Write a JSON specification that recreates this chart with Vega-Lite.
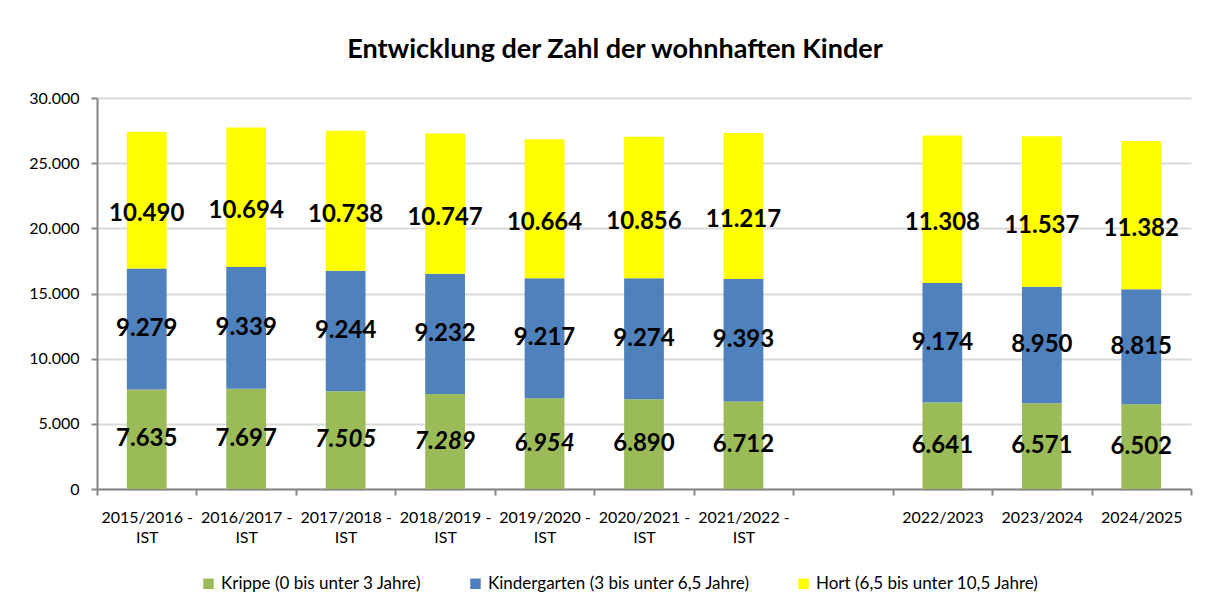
{
  "$schema": "https://vega.github.io/schema/vega-lite/v6.json",
  "autosize": {"type": "none"},
  "width": 1094,
  "height": 391,
  "padding": {"left": 97, "top": 98, "right": 25, "bottom": 123},
  "background": "white",
  "title": {
    "text": "Entwicklung der Zahl der wohnhaften Kinder",
    "font": "Lato",
    "fontSize": 27,
    "fontWeight": "bold",
    "color": "#000000",
    "anchor": "middle",
    "offset": 26,
    "dx": -29
  },
  "config": {
    "locale": {"number": {"decimal": ",", "thousands": ".", "grouping": [3], "currency": ["", " €"]}},
    "view": {"stroke": null},
    "font": "Lato"
  },
  "data": {
    "values": [
      {"Jahr": "2015/2016 -|IST", "Typ": "Krippe (0 bis unter 3 Jahre)", "Wert": 7635},
      {"Jahr": "2015/2016 -|IST", "Typ": "Kindergarten (3 bis unter 6,5 Jahre)", "Wert": 9279},
      {"Jahr": "2015/2016 -|IST", "Typ": "Hort (6,5 bis unter 10,5 Jahre)", "Wert": 10490},
      {"Jahr": "2016/2017 -|IST", "Typ": "Krippe (0 bis unter 3 Jahre)", "Wert": 7697},
      {"Jahr": "2016/2017 -|IST", "Typ": "Kindergarten (3 bis unter 6,5 Jahre)", "Wert": 9339},
      {"Jahr": "2016/2017 -|IST", "Typ": "Hort (6,5 bis unter 10,5 Jahre)", "Wert": 10694},
      {"Jahr": "2017/2018 -|IST", "Typ": "Krippe (0 bis unter 3 Jahre)", "Wert": 7505},
      {"Jahr": "2017/2018 -|IST", "Typ": "Kindergarten (3 bis unter 6,5 Jahre)", "Wert": 9244},
      {"Jahr": "2017/2018 -|IST", "Typ": "Hort (6,5 bis unter 10,5 Jahre)", "Wert": 10738},
      {"Jahr": "2018/2019 -|IST", "Typ": "Krippe (0 bis unter 3 Jahre)", "Wert": 7289},
      {"Jahr": "2018/2019 -|IST", "Typ": "Kindergarten (3 bis unter 6,5 Jahre)", "Wert": 9232},
      {"Jahr": "2018/2019 -|IST", "Typ": "Hort (6,5 bis unter 10,5 Jahre)", "Wert": 10747},
      {"Jahr": "2019/2020 -|IST", "Typ": "Krippe (0 bis unter 3 Jahre)", "Wert": 6954},
      {"Jahr": "2019/2020 -|IST", "Typ": "Kindergarten (3 bis unter 6,5 Jahre)", "Wert": 9217},
      {"Jahr": "2019/2020 -|IST", "Typ": "Hort (6,5 bis unter 10,5 Jahre)", "Wert": 10664},
      {"Jahr": "2020/2021 -|IST", "Typ": "Krippe (0 bis unter 3 Jahre)", "Wert": 6890},
      {"Jahr": "2020/2021 -|IST", "Typ": "Kindergarten (3 bis unter 6,5 Jahre)", "Wert": 9274},
      {"Jahr": "2020/2021 -|IST", "Typ": "Hort (6,5 bis unter 10,5 Jahre)", "Wert": 10856},
      {"Jahr": "2021/2022 -|IST", "Typ": "Krippe (0 bis unter 3 Jahre)", "Wert": 6712},
      {"Jahr": "2021/2022 -|IST", "Typ": "Kindergarten (3 bis unter 6,5 Jahre)", "Wert": 9393},
      {"Jahr": "2021/2022 -|IST", "Typ": "Hort (6,5 bis unter 10,5 Jahre)", "Wert": 11217},
      {"Jahr": "2022/2023", "Typ": "Krippe (0 bis unter 3 Jahre)", "Wert": 6641},
      {"Jahr": "2022/2023", "Typ": "Kindergarten (3 bis unter 6,5 Jahre)", "Wert": 9174},
      {"Jahr": "2022/2023", "Typ": "Hort (6,5 bis unter 10,5 Jahre)", "Wert": 11308},
      {"Jahr": "2023/2024", "Typ": "Krippe (0 bis unter 3 Jahre)", "Wert": 6571},
      {"Jahr": "2023/2024", "Typ": "Kindergarten (3 bis unter 6,5 Jahre)", "Wert": 8950},
      {"Jahr": "2023/2024", "Typ": "Hort (6,5 bis unter 10,5 Jahre)", "Wert": 11537},
      {"Jahr": "2024/2025", "Typ": "Krippe (0 bis unter 3 Jahre)", "Wert": 6502},
      {"Jahr": "2024/2025", "Typ": "Kindergarten (3 bis unter 6,5 Jahre)", "Wert": 8815},
      {"Jahr": "2024/2025", "Typ": "Hort (6,5 bis unter 10,5 Jahre)", "Wert": 11382}
    ]
  },
  "encoding": {
    "x": {
      "field": "Jahr",
      "type": "nominal",
      "scale": {
        "domain": ["2015/2016 -|IST", "2016/2017 -|IST", "2017/2018 -|IST", "2018/2019 -|IST", "2019/2020 -|IST", "2020/2021 -|IST", "2021/2022 -|IST", " ", "2022/2023", "2023/2024", "2024/2025"],
        "paddingInner": 0,
        "paddingOuter": 0
      },
      "axis": {
        "title": null,
        "labelExpr": "split(datum.label, '|')",
        "labelAngle": 0,
        "labelFont": "Lato",
        "labelFontSize": 16,
        "labelColor": "#000000",
        "labelLineHeight": 20,
        "labelPadding": 14,
        "labelBaseline": "top",
        "domainColor": "#868686",
        "domainWidth": 2,
        "tickColor": "#868686",
        "tickWidth": 2,
        "tickSize": 6,
        "tickBand": "extent",
        "grid": false
      }
    },
    "y": {
      "field": "Wert",
      "type": "quantitative",
      "stack": "zero",
      "scale": {"domain": [0, 30000], "nice": false},
      "axis": {
        "title": null,
        "values": [0, 5000, 10000, 15000, 20000, 25000, 30000],
        "format": ",d",
        "labelFont": "Lato",
        "labelFontSize": 16,
        "labelColor": "#000000",
        "labelPadding": 12,
        "domainColor": "#868686",
        "domainWidth": 2,
        "tickColor": "#868686",
        "tickWidth": 2,
        "tickSize": 6,
        "grid": true,
        "gridColor": "#D9D9D9",
        "gridWidth": 2
      }
    },
    "order": {"field": "Typ", "type": "ordinal", "sort": "descending"}
  },
  "layer": [
    {
      "mark": {"type": "bar", "width": {"band": 0.4}},
      "encoding": {
        "color": {
          "field": "Typ",
          "type": "nominal",
          "scale": {
            "domain": ["Krippe (0 bis unter 3 Jahre)", "Kindergarten (3 bis unter 6,5 Jahre)", "Hort (6,5 bis unter 10,5 Jahre)"],
            "range": ["#9BBB59", "#4F81BD", "#FFFF00"]
          },
          "legend": {
            "title": null,
            "orient": "none",
            "legendX": 103,
            "legendY": 477,
            "direction": "horizontal",
            "symbolType": "square",
            "symbolSize": 110,
            "symbolStrokeWidth": 0,
            "labelFont": "Lato",
            "labelFontSize": 17,
            "labelColor": "#000000",
            "labelOffset": 4,
            "columnPadding": 45,
            "labelLimit": 400
          }
        }
      }
    },
    {
      "mark": {"type": "text", "font": "Lato", "fontSize": 24, "fontWeight": "bold", "color": "#000000", "baseline": "middle"},
      "encoding": {
        "y": {"field": "Wert", "type": "quantitative", "stack": "zero", "bandPosition": 0.5},
        "detail": {"field": "Typ"},
        "text": {"field": "Wert", "type": "quantitative", "format": ",d"},
        "opacity": {
          "condition": {"test": "datum.Typ == 'Hort (6,5 bis unter 10,5 Jahre)' || (datum.Typ == 'Krippe (0 bis unter 3 Jahre)' && indexof(['2017/2018 -|IST','2018/2019 -|IST','2019/2020 -|IST'], datum.Jahr) >= 0)", "value": 0},
          "value": 1
        }
      }
    },
    {
      "mark": {"type": "text", "font": "Lato", "fontSize": 24, "fontWeight": "bold", "fontStyle": "italic", "color": "#000000", "baseline": "middle"},
      "encoding": {
        "y": {"field": "Wert", "type": "quantitative", "stack": "zero", "bandPosition": 0.5},
        "detail": {"field": "Typ"},
        "text": {"field": "Wert", "type": "quantitative", "format": ",d"},
        "opacity": {
          "condition": {"test": "datum.Typ == 'Krippe (0 bis unter 3 Jahre)' && indexof(['2017/2018 -|IST','2018/2019 -|IST','2019/2020 -|IST'], datum.Jahr) >= 0", "value": 1},
          "value": 0
        }
      }
    },
    {
      "mark": {"type": "text", "font": "Lato", "fontSize": 24, "fontWeight": "bold", "color": "#000000", "baseline": "middle", "dy": 14},
      "encoding": {
        "y": {"field": "Wert", "type": "quantitative", "stack": "zero", "bandPosition": 0.5},
        "detail": {"field": "Typ"},
        "text": {"field": "Wert", "type": "quantitative", "format": ",d"},
        "opacity": {
          "condition": {"test": "datum.Typ == 'Hort (6,5 bis unter 10,5 Jahre)'", "value": 1},
          "value": 0
        }
      }
    }
  ]
}
